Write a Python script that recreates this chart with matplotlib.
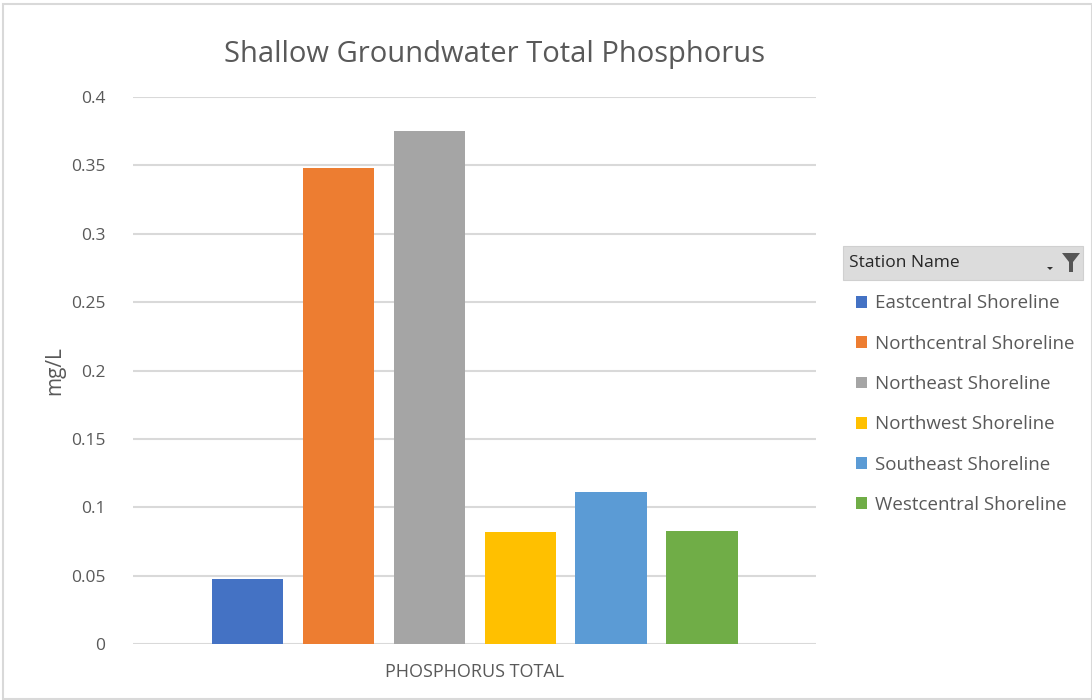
import numpy as np
import matplotlib.pyplot as plt
from matplotlib.patches import Rectangle, Polygon

plt.rcParams['font.family'] = ['Open Sans', 'DejaVu Sans']

# data
category = "PHOSPHORUS TOTAL"
stations = ["Eastcentral Shoreline", "Northcentral Shoreline", "Northeast Shoreline",
            "Northwest Shoreline", "Southeast Shoreline", "Westcentral Shoreline"]
values = [0.0475, 0.348, 0.375, 0.082, 0.111, 0.0825]
colors = ["#4472c4", "#ed7d31", "#a5a5a5", "#ffc000", "#5b9bd5", "#70ad47"]
yticks = [0, 0.05, 0.1, 0.15, 0.2, 0.25, 0.3, 0.35, 0.4]
ytick_labels = ["0", "0.05", "0.1", "0.15", "0.2", "0.25", "0.3", "0.35", "0.4"]

TXT = "#595959"

fig = plt.figure(figsize=(10.92, 7), dpi=100)
# outer chart frame
fig.patches.append(Rectangle((0.003, 0.002), 0.997, 0.992, transform=fig.transFigure,
                             fill=False, edgecolor="#d9d9d9", linewidth=1.5))

ax = fig.add_axes([0.1218, 0.08, 0.6255, 0.7814])
pitch = 0.1332
width = 0.104
bars = []
for i, (name, v, c) in enumerate(zip(stations, values, colors)):
    b = ax.bar((i - 2.5) * pitch, v, width=width, color=c, label=name, zorder=3)
    bars.append(b)

ax.set_xlim(-0.5, 0.5)
ax.set_ylim(0, 0.4)
ax.set_yticks(yticks)
ax.set_yticklabels(ytick_labels, color=TXT, fontsize=12.5)
ax.set_xticks([0])
ax.set_xticklabels([category], color=TXT, fontsize=13)
ax.tick_params(axis='both', length=0)
ax.tick_params(axis='y', pad=20)
ax.tick_params(axis='x', pad=14)
ax.grid(axis='y', color="#d9d9d9", linewidth=1.5, zorder=0)
for s in ax.spines.values():
    s.set_visible(False)
ax.set_ylabel("mg/L", color=TXT, fontsize=15, labelpad=4)

fig.text(0.453, 0.922, "Shallow Groundwater Total Phosphorus", ha='center', va='center',
         color=TXT, fontsize=21)

# legend header box ("Station Name" with filter icon)
hx, hy, hw, hh = 843 / 1092, 1 - 280 / 700, 240 / 1092, 34 / 700
fig.patches.append(Rectangle((hx, hy), hw, hh, transform=fig.transFigure,
                             facecolor="#dcdcdc", edgecolor="#d0d0d0", linewidth=0.8))
fig.text(hx + 6 / 1092, hy + hh / 2, "Station Name", ha='left', va='center',
         color="#262626", fontsize=12.5)
fx, fy = 1062 / 1092, 1 - 253 / 700
funnel = [(fx, fy), (fx + 18 / 1092, fy), (fx + 11 / 1092, fy - 9 / 700),
          (fx + 11 / 1092, fy - 19 / 700), (fx + 7 / 1092, fy - 19 / 700),
          (fx + 7 / 1092, fy - 9 / 700)]
fig.patches.append(Polygon(funnel, closed=True, transform=fig.transFigure,
                           facecolor="#555555", edgecolor="none"))
dx, dy = 1047 / 1092, 1 - 267 / 700
fig.patches.append(Polygon([(dx, dy), (dx + 6 / 1092, dy), (dx + 3 / 1092, dy - 3 / 700)],
                           closed=True, transform=fig.transFigure,
                           facecolor="#333333", edgecolor="none"))

leg = fig.legend(handles=[b for b in bars], labels=stations, loc='upper left',
                 bbox_to_anchor=(848 / 1092, 1 - 287 / 700), frameon=False,
                 fontsize=13.5, handlelength=0.6, handleheight=0.6, handletextpad=0.45,
                 labelspacing=1.19, borderaxespad=0)
for t in leg.get_texts():
    t.set_color(TXT)

fig.savefig("out.png", dpi=100)
